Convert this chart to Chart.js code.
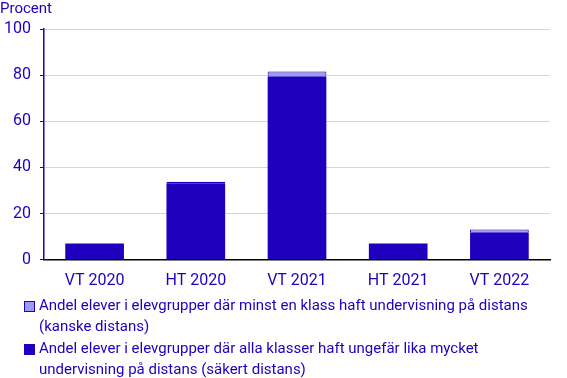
<!DOCTYPE html>
<html>
<head>
<meta charset="utf-8">
<script src="https://cdn.jsdelivr.net/npm/chart.js@4"></script>
<style>
  body { margin: 0; background: #fff; font-family: Roboto, sans-serif; }
  #wrap { position: relative; width: 567px; height: 378px; }
  #chart-box { position: absolute; left: 0; top: 0; width: 567px; height: 303px; }
  #legend { position: absolute; left: 24px; top: 295px; width: 540px; color: #1e00be; font-size: 15px; line-height: 21px; }
  .item { display: flex; margin-bottom: 1px; }
  .box { flex: 0 0 auto; width: 9px; height: 9px; margin: 6px 4px 0 0; border: 1px solid #1e00be; }
</style>
</head>
<body>
<div id="wrap">
  <div id="chart-box"><canvas id="distansChart"></canvas></div>
  <div id="legend"></div>
</div>
<script>
// Data
const terms = ["VT 2020", "HT 2020", "VT 2021", "HT 2021", "VT 2022"];
const sakertDistans = [7.1, 33.2, 79.3, 7.1, 11.7];
const kanskeDistans = [0, 0.6, 2.3, 0, 1.4];
const yTicks = [0, 20, 40, 60, 80, 100];

const labelKanske = "Andel elever i elevgrupper där minst en klass haft undervisning på distans (kanske distans)";
const labelSakert = "Andel elever i elevgrupper där alla klasser haft ungefär lika mycket undervisning på distans (säkert distans)";

const darkBlue = "#1e00be";
const lightBlue = "#9b9bf0";

// Create the stacked bar chart
const ctx = document.getElementById("distansChart").getContext("2d");
const distansChart = new Chart(ctx, {
  type: "bar",
  data: {
    labels: terms,
    datasets: [
      {
        label: labelSakert,
        data: sakertDistans,
        backgroundColor: darkBlue,
        borderColor: darkBlue,
        borderWidth: 0,
      },
      {
        label: labelKanske,
        data: kanskeDistans.map((v) => (v > 0 ? v : null)),
        backgroundColor: lightBlue,
        borderColor: darkBlue,
        borderWidth: 1,
        borderSkipped: false,
      },
    ],
  },
  options: {
    responsive: true,
    maintainAspectRatio: false,
    animation: false,
    datasets: {
      bar: { categoryPercentage: 1, barPercentage: 0.58 },
    },
    layout: { padding: { left: 0, right: 17, top: 0, bottom: 0 } },
    scales: {
      x: {
        stacked: true,
        grid: { display: false, drawTicks: false },
        border: { color: "#000", width: 1.5 },
        ticks: { color: darkBlue, font: { family: "Roboto", size: 16 }, padding: 12 },
      },
      y: {
        stacked: true,
        min: 0,
        max: 100,
        afterBuildTicks: (axis) => {
          axis.ticks = yTicks.map((v) => ({ value: v }));
        },
        afterFit: (axis) => {
          axis.width = 44; // y axis line sits at x = 44
        },
        grid: { color: "#d2d2ef", tickColor: darkBlue, tickLength: 4 },
        border: { color: darkBlue, width: 1.5 },
        ticks: { color: darkBlue, font: { family: "Roboto", size: 16 }, padding: 9 },
      },
    },
    plugins: {
      legend: { display: false },
      tooltip: { enabled: false },
      title: {
        display: true,
        text: "Procent",
        align: "start",
        color: darkBlue,
        font: { family: "Roboto", size: 15, weight: "normal" },
        padding: { top: 0, bottom: 11 },
      },
    },
  },
});

// HTML legend so the long labels can wrap
const legendEl = document.getElementById("legend");
[
  { text: labelKanske, color: lightBlue },
  { text: labelSakert, color: darkBlue },
].forEach((item) => {
  const row = document.createElement("div");
  row.className = "item";
  row.innerHTML = `<span class="box" style="background:${item.color}"></span><span>${item.text}</span>`;
  legendEl.appendChild(row);
});
</script>
</body>
</html>
